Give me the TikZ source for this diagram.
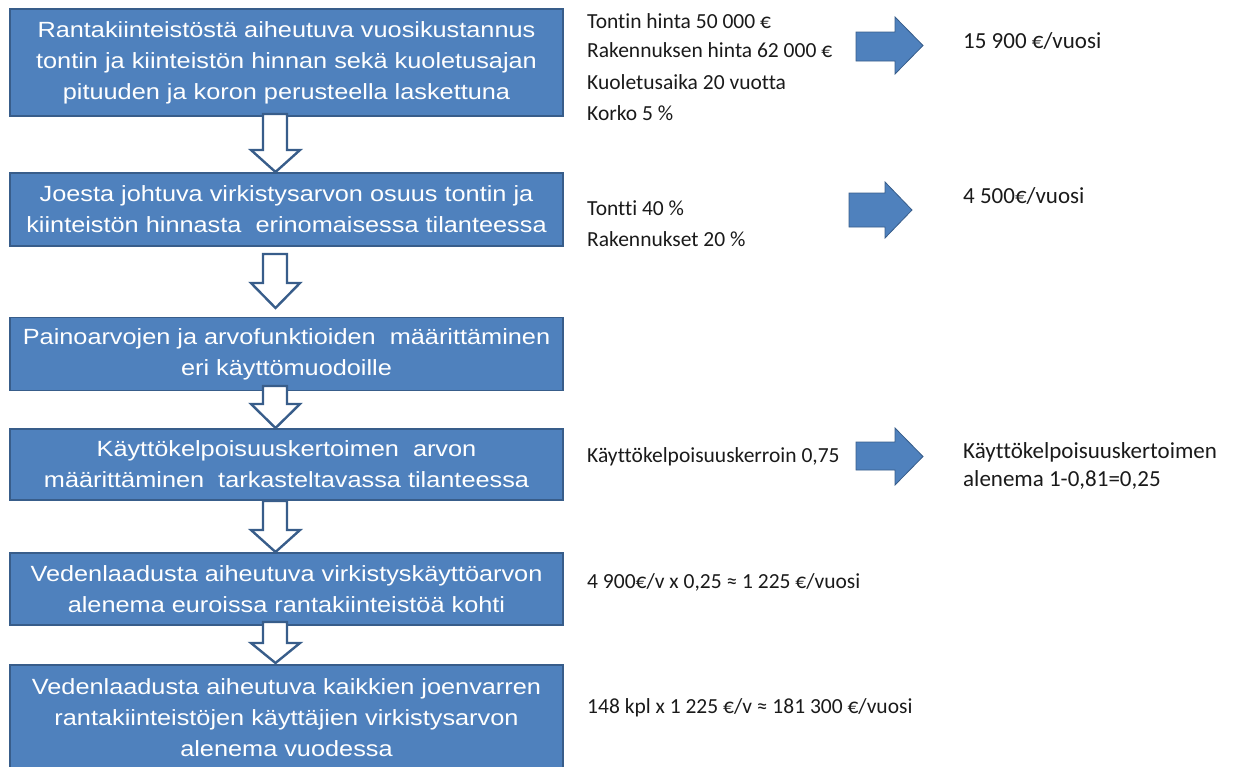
\documentclass[tikz,border=0pt]{standalone}
\usepackage{fontspec}
\setmainfont{Liberation Sans}
\newfontfamily\boxfont[FakeStretch=1.15]{Liberation Sans}
\newfontfamily\calfont[Ligatures={NoCommon}]{Carlito}
\definecolor{boxblue}{HTML}{4F81BD}
\definecolor{edgeblue}{HTML}{385D8A}
\definecolor{txt}{HTML}{1A1A1A}
\tikzset{
  flowbox/.style={draw=edgeblue, line width=1.2pt, fill=boxblue, text=white,
    minimum width=553pt, align=center, inner sep=0pt,
    font=\boxfont\fontsize{22}{31}\selectfont},
  downarr/.style={draw=edgeblue, line width=2.4pt, fill=white, line join=miter},
  rightarr/.style={draw=edgeblue, line width=0.8pt, fill=boxblue, line join=miter},
  note/.style={anchor=west, inner sep=0pt, text=txt, font=\calfont\fontsize{21.5}{31}\selectfont, align=left},
  result/.style={note, font=\calfont\fontsize{23}{28}\selectfont}
}
\begin{document}
\begin{tikzpicture}[x=1pt,y=-1pt]
\useasboundingbox (0,0) rectangle (1238,766);
\begin{scope}
\clip (0,0) rectangle (1238,766);
% boxes
\node[flowbox, minimum height=107pt] (b1) at (286.5,62.5) {Rantakiinteistöstä aiheutuva vuosikustannus\\tontin ja kiinteistön hinnan sekä kuoletusajan\\pituuden ja koron perusteella laskettuna};
\node[flowbox, minimum height=73pt] (b2) at (286.5,209.5) {Joesta johtuva virkistysarvon osuus tontin ja\\kiinteistön hinnasta\ \ erinomaisessa tilanteessa};
\node[flowbox, minimum height=73pt] (b3) at (286.5,354) {Painoarvojen ja arvofunktioiden\ \ määrittäminen\\eri käyttömuodoille};
\node[flowbox, minimum height=71pt] (b4) at (286.5,464.5) {Käyttökelpoisuuskertoimen\ \ arvon\\määrittäminen\ \ tarkasteltavassa tilanteessa};
\node[flowbox, minimum height=72pt] (b5) at (286.5,589) {Vedenlaadusta aiheutuva virkistyskäyttöarvon\\alenema euroissa rantakiinteistöä kohti};
\node[flowbox, minimum height=106pt] (b6) at (286.5,718) {Vedenlaadusta aiheutuva kaikkien joenvarren\\rantakiinteistöjen käyttäjien virkistysarvon\\alenema vuodessa};
% down arrows: shaft top, head base, tip
\newcommand{\dnarrow}[3]{%
  \draw[downarr] (263,#1) -- (287,#1) -- (287,#2) -- (300,#2) -- (275.5,#3) -- (251,#2) -- (263,#2) -- cycle;}
\dnarrow{114}{150}{172}
\dnarrow{254}{283}{308}
\dnarrow{386}{404}{428}
\dnarrow{501}{530}{552}
\dnarrow{622}{643}{663}
% right block arrows
\newcommand{\rtarrow}[8]{%
  \draw[rightarr] (#1,#4) -- (#2,#4) -- (#2,#6) -- (#3,#8) -- (#2,#7) -- (#2,#5) -- (#1,#5) -- cycle;}
\rtarrow{856}{895}{923}{32}{61}{17}{74}{45.5}
\rtarrow{849}{885}{912}{193}{227}{182}{238}{210}
\rtarrow{856}{895}{923}{442}{470}{428}{485}{456.5}
% notes
\node[note] (n1) at (587,21) {Tontin hinta 50 000 €};
\node[note] (n2) at (587,50) {Rakennuksen hinta 62 000 €};
\node[note] (n3) at (587,82) {Kuoletusaika 20 vuotta};
\node[note] (n4) at (587,113) {Korko 5 \%};
\node[note] (n5) at (587,208) {Tontti 40 \%};
\node[note] (n6) at (587,239) {Rakennukset 20 \%};
\node[note] (n7) at (587,457) {Käyttökelpoisuuskerroin 0,75};
\node[note] (n8) at (587,582) {4 900€/v x 0,25 ≈ 1 225 €/vuosi};
\node[note] (n9) at (587,708) {148 kpl x 1 225 €/v ≈ 181 300 €/vuosi};
\node[result] (r1) at (963,41) {15 900 €/vuosi};
\node[result] (r2) at (963,196) {4 500€/vuosi};
\node[result] (r3) at (963,452) {Käyttökelpoisuuskertoimen};
\node[result] (r4) at (963,480) {alenema 1-0,81=0,25};
\end{scope}
\end{tikzpicture}
\end{document}
